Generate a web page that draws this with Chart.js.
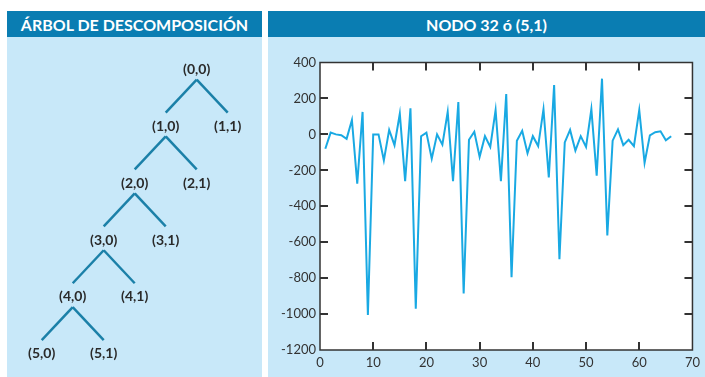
<!DOCTYPE html>
<html lang="es">
<head>
<meta charset="utf-8">
<title>Árbol de descomposición · Nodo 32 ó (5,1)</title>
<script src="https://cdn.jsdelivr.net/npm/chart.js@4.4.1/dist/chart.umd.min.js"></script>
<style>
  html, body { margin: 0; padding: 0; background: #ffffff; }
  body { width: 705px; height: 377px; position: relative; overflow: hidden; font-family: Lato, "Open Sans", sans-serif; }
  .panel { position: absolute; background: #c8e8f9; }
  .cabecera { position: absolute; background: #0a7db2; color: #ffffff; font-weight: 700; font-size: 16px;
              display: flex; align-items: center; justify-content: center; white-space: nowrap; }
  .lienzo { position: absolute; }
</style>
</head>
<body>
  <div class="panel" style="left:7px; top:37px; width:255px; height:340px;"></div>
  <div class="panel" style="left:268px; top:37px; width:437px; height:340px;"></div>
  <div class="cabecera" style="left:7px; top:11px; width:255px; height:26px;">ÁRBOL DE DESCOMPOSICIÓN</div>
  <div class="cabecera" style="left:268px; top:11px; width:437px; height:26px;">NODO 32 ó (5,1)</div>
  <div class="lienzo" style="left:7px; top:37px; width:255px; height:340px;"><canvas id="arbol"></canvas></div>
  <div class="lienzo" style="left:268px; top:37px; width:437px; height:340px;"><canvas id="nodo"></canvas></div>

<script>
// Nodos del árbol de descomposición: nivel j y rama k (0 = aproximación, 1 = detalle)
const nodos = [
  '(0,0)',
  '(1,0)', '(1,1)',
  '(2,0)', '(2,1)',
  '(3,0)', '(3,1)',
  '(4,0)', '(4,1)',
  '(5,0)', '(5,1)'
];
// Ramas: [padre, hijo]
const ramas = [
  ['(0,0)', '(1,0)'], ['(0,0)', '(1,1)'],
  ['(1,0)', '(2,0)'], ['(1,0)', '(2,1)'],
  ['(2,0)', '(3,0)'], ['(2,0)', '(3,1)'],
  ['(3,0)', '(4,0)'], ['(3,0)', '(4,1)'],
  ['(4,0)', '(5,0)'], ['(4,0)', '(5,1)']
];

// Coeficientes del nodo 32 ó (5,1)
const coeficientes = [
  -80, 10, 0, -5, -25, 80, -275, 125, -1005,
  0, 0, -145, 25, -60, 115, -260, 145, -970,
  -10, 10, -135, 0, -57, 125, -260, 180, -885,
  -30, 15, -125, -10, -70, 135, -260, 225, -795,
  -35, 20, -105, -10, -65, 140, -240, 275, -695,
  -45, 25, -90, -10, -70, 140, -230, 310, -563,
  -35, 28, -60, -30, -65, 135, -158, -5, 12, 17, -33, -10
];
const muestras = coeficientes.map((_, i) => i + 1);
const ticksX = [0, 10, 20, 30, 40, 50, 60, 70];
const ticksY = [-1200, -1000, -800, -600, -400, -200, 0, 200, 400];

/* ---------- Árbol ---------- */
function posicion(nombre) {
  const [j, k] = nombre.replace(/[()]/g, '').split(',').map(Number);
  return { x: k === 0 ? -j : 2 - j, y: j };
}
const bajoPadre = 0.18;   // separación bajo la etiqueta del padre (en niveles)
const sobreHijo = 0.24;   // separación sobre la etiqueta del hijo (en niveles)

const datasetsRamas = ramas.map(([p, h]) => {
  const a = posicion(p), b = posicion(h);
  return {
    data: [{ x: a.x, y: a.y + bajoPadre }, { x: b.x, y: b.y - sobreHijo }],
    showLine: true, borderColor: '#1b80a8', borderWidth: 2.5,
    pointRadius: 0, borderCapStyle: 'butt'
  };
});

const etiquetasNodos = {
  id: 'etiquetasNodos',
  afterDatasetsDraw(chart) {
    const { ctx, scales: { x, y } } = chart;
    ctx.save();
    ctx.fillStyle = '#2a2a2a';
    ctx.font = '700 14px Lato, "Open Sans", sans-serif';
    ctx.textAlign = 'center';
    ctx.textBaseline = 'middle';
    nodos.forEach(n => {
      const p = posicion(n);
      ctx.fillText(n, x.getPixelForValue(p.x), y.getPixelForValue(p.y));
    });
    ctx.restore();
  }
};

new Chart(document.getElementById('arbol'), {
  type: 'scatter',
  data: { datasets: datasetsRamas },
  options: {
    responsive: true, maintainAspectRatio: false, animation: false,
    layout: { padding: 0 },
    plugins: { legend: { display: false }, tooltip: { enabled: false } },
    scales: {
      x: { type: 'linear', display: false, min: -6.12, max: 2.106 },
      y: { type: 'linear', display: false, min: -0.568, max: 5.408, reverse: true }
    }
  },
  plugins: [etiquetasNodos]
});

/* ---------- Señal del nodo ---------- */
const marcoYMarcas = {
  id: 'marcoYMarcas',
  beforeDatasetsDraw(chart) {
    const { ctx, chartArea: a } = chart;
    ctx.save();
    ctx.fillStyle = '#ffffff';
    ctx.fillRect(a.left, a.top, a.right - a.left, a.bottom - a.top);
    ctx.restore();
  },
  afterDatasetsDraw(chart) {
    const { ctx, chartArea: a, scales: { x, y } } = chart;
    const largo = 8;
    ctx.save();
    ctx.strokeStyle = '#333333';
    ctx.lineWidth = 1.5;
    ctx.strokeRect(a.left, a.top, a.right - a.left, a.bottom - a.top);
    ctx.lineWidth = 2;
    ctx.beginPath();
    ticksX.forEach(v => {
      const px = Math.round(x.getPixelForValue(v));
      if (px <= a.left + 1 || px >= a.right - 1) return;
      ctx.moveTo(px, a.bottom); ctx.lineTo(px, a.bottom - largo);
      ctx.moveTo(px, a.top); ctx.lineTo(px, a.top + largo);
    });
    ticksY.forEach(v => {
      const py = Math.round(y.getPixelForValue(v));
      if (py <= a.top + 1 || py >= a.bottom - 1) return;
      ctx.moveTo(a.left, py); ctx.lineTo(a.left + largo, py);
      ctx.moveTo(a.right, py); ctx.lineTo(a.right - largo, py);
    });
    ctx.stroke();
    ctx.restore();
  }
};

const fuenteEjes = { family: 'Lato, "Open Sans", sans-serif', size: 13 };

new Chart(document.getElementById('nodo'), {
  type: 'line',
  data: {
    datasets: [{
      data: muestras.map((m, i) => ({ x: m, y: coeficientes[i] })),
      borderColor: '#19a9e3', borderWidth: 2, pointRadius: 0,
      tension: 0, fill: false
    }]
  },
  options: {
    responsive: true, maintainAspectRatio: false, animation: false,
    layout: { padding: { left: 0, right: 10, top: 25.5, bottom: 0 } },
    plugins: { legend: { display: false }, tooltip: { enabled: false } },
    scales: {
      x: {
        type: 'linear', min: 0, max: 70,
        afterBuildTicks: s => { s.ticks = ticksX.map(v => ({ value: v })); },
        afterFit: s => { s.height = 27; },
        grid: { display: false, drawTicks: false },
        border: { display: false },
        ticks: { color: '#333333', font: fuenteEjes, padding: 5, maxRotation: 0, autoSkip: false,
                 callback: v => String(v) }
      },
      y: {
        type: 'linear', min: -1200, max: 400,
        afterBuildTicks: s => { s.ticks = ticksY.map(v => ({ value: v })); },
        afterFit: s => { s.width = 52; },
        grid: { display: false, drawTicks: false },
        border: { display: false },
        ticks: { color: '#333333', font: fuenteEjes, padding: 4, autoSkip: false,
                 callback: v => String(v) }
      }
    }
  },
  plugins: [marcoYMarcas]
});
</script>
</body>
</html>
